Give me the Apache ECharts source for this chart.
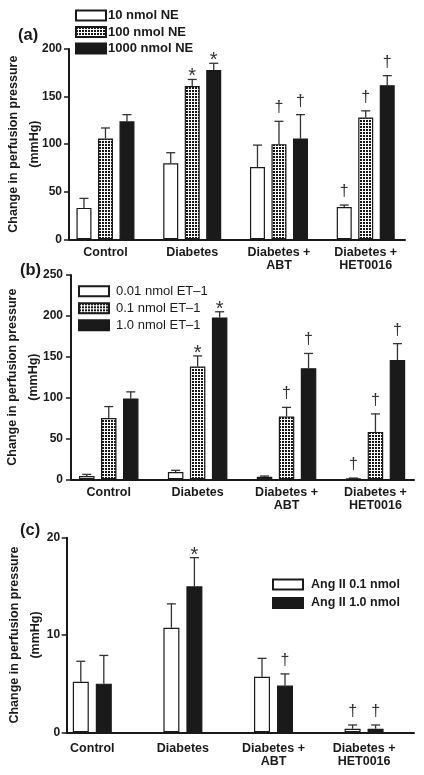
<!DOCTYPE html>
<html><head><meta charset="utf-8">
<script src="https://cdn.jsdelivr.net/npm/echarts@6/dist/echarts.min.js"></script>
<style>html,body{margin:0;padding:0;background:#fff}#c{width:424px;height:775px}</style>
</head><body><div id="c"></div>
<script>
// ---------- DATA ----------
const categories = ['Control', 'Diabetes', 'Diabetes +\nABT', 'Diabetes +\nHET0016'];

// Panel (a): norepinephrine
const aNames = ['10 nmol NE', '100 nmol NE', '1000 nmol NE'];
const aMean10 = [33, 80, 76, 34];
const aTop10 = [43, 91, 99, 36];
const aMean100 = [106, 161, 100, 128];
const aTop100 = [117, 168, 124, 135];
const aMean1000 = [124, 178, 106, 162];
const aTop1000 = [131, 185, 131, 172];
const aMark10 = ['', '', '', '†'];
const aMark100 = ['', '*', '†', '†'];
const aMark1000 = ['', '*', '†', '†'];
const aTicks = [0, 50, 100, 150, 200];

// Panel (b): endothelin-1
const bNames = ['0.01 nmol ET–1', '0.1 nmol ET–1', '1.0 nmol ET–1'];
const bMean001 = [4, 9, 3, 1];
const bTop001 = [6, 11, 4, 1.5];
const bMean01 = [75, 138, 77, 58];
const bTop01 = [89, 151, 88, 80];
const bMean1 = [99, 198, 136, 146];
const bTop1 = [107, 205, 154, 166];
const bMark001 = ['', '', '', '†'];
const bMark01 = ['', '*', '†', '†'];
const bMark1 = ['', '*', '†', '†'];
const bTicks = [0, 50, 100, 150, 200, 250];

// Panel (c): angiotensin II
const cNames = ['Ang II 0.1 nmol', 'Ang II 1.0 nmol'];
const cMean01 = [5.2, 10.75, 5.7, 0.37];
const cTop01 = [7.3, 13.2, 7.6, 0.75];
const cMean1 = [5.0, 15.0, 4.8, 0.37];
const cTop1 = [7.9, 17.95, 6.0, 0.75];
const cMark01 = ['', '', '', '†'];
const cMark1 = ['', '*', '†', '†'];
const cTicks = [0, 10, 20];

const yTitle = 'Change in perfusion pressure\n(mmHg)';

// ---------- STYLE ----------
const FONT = '"Liberation Sans", Arial, Helvetica, sans-serif';
const INK = '#1a1a1a';
function makeDots() {
  const c = document.createElement('canvas');
  c.width = 3; c.height = 3;
  const g = c.getContext('2d');
  g.fillStyle = '#ffffff'; g.fillRect(0, 0, 3, 3);
  g.fillStyle = '#151515'; g.fillRect(0, 0, 2, 2);
  return c;
}
const FILLS = { white: '#ffffff', dots: { image: makeDots(), repeat: 'repeat' }, black: INK };

const panels = [
  { names: aNames, means: [aMean10, aMean100, aMean1000], tops: [aTop10, aTop100, aTop1000],
    marks: [aMark10, aMark100, aMark1000], fills: ['white', 'dots', 'black'], ticks: aTicks,
    top: 49, height: 190.3, dataLeft: 62.1, dataWidth: 347, axisLeft: 69, axisRight: 405,
    barW: 15, gap: 6.5, legLeft: 75, legTop: 7.5, legBold: true, legSize: 13, legGap: 0.5, legPad: -3,
    label: '(a)', labLeft: 18, labTop: 27, xMargin: 6, nameGap: 23.5, yMargin: 7 },
  { names: bNames, means: [bMean001, bMean01, bMean1], tops: [bTop001, bTop01, bTop1],
    marks: [bMark001, bMark01, bMark1], fills: ['white', 'dots', 'black'], ticks: bTicks,
    top: 275, height: 204.3, dataLeft: 64.3, dataWidth: 355.6, axisLeft: 71, axisRight: 414,
    barW: 15.5, gap: 6.5, legLeft: 78, legTop: 283.3, legBold: false, legSize: 13, legGap: 1, legPad: 2,
    label: '(b)', labLeft: 20, labTop: 262, xMargin: 6, nameGap: 26.5, yMargin: 8 },
  { names: cNames, means: [cMean01, cMean1], tops: [cTop01, cTop1],
    marks: [cMark01, cMark1], fills: ['white', 'black'], ticks: cTicks,
    top: 537.7, height: 194.6, dataLeft: 47, dataWidth: 362.4, axisLeft: 66.7, axisRight: 414,
    barW: 16, gap: 7, legLeft: 272, legTop: 576.5, legBold: true, legSize: 12.5, legGap: 2.5, legPad: 3,
    label: '(c)', labLeft: 20, labTop: 522, xMargin: 9, nameGap: 20.7, yMargin: 6.5 }
];

const grid = [], xAxis = [], yAxis = [], series = [], legend = [], title = [];

panels.forEach((p, pi) => {
  const gData = pi * 2, gAxis = pi * 2 + 1;
  const yMin = p.ticks[0], yMax = p.ticks[p.ticks.length - 1], yInt = p.ticks[1] - p.ticks[0];
  grid.push({ left: p.dataLeft, width: p.dataWidth, top: p.top, height: p.height, outerBoundsMode: 'none' });
  grid.push({ left: p.axisLeft, width: p.axisRight - p.axisLeft, top: p.top, height: p.height, outerBoundsMode: 'none' });

  xAxis.push({ type: 'category', gridIndex: gData, data: categories,
    axisLine: { show: false }, axisTick: { show: false }, splitLine: { show: false },
    axisLabel: { interval: 0, margin: p.xMargin, color: INK, fontFamily: FONT, fontWeight: 'bold', fontSize: 12.5, lineHeight: 13.5 } });
  xAxis.push({ type: 'value', gridIndex: gAxis, min: 0, max: 1,
    axisLine: { show: true, onZero: false, lineStyle: { color: INK, width: 2 } },
    axisTick: { show: false }, axisLabel: { show: false }, splitLine: { show: false } });

  yAxis.push({ type: 'value', gridIndex: gData, min: yMin, max: yMax, interval: yInt, show: false });
  yAxis.push({ type: 'value', gridIndex: gAxis, min: yMin, max: yMax, interval: yInt,
    axisLine: { show: true, onZero: false, lineStyle: { color: INK, width: 2 } },
    axisTick: { show: true, length: 5, lineStyle: { color: INK, width: 1.5 } },
    splitLine: { show: false },
    axisLabel: { margin: p.yMargin, color: INK, fontFamily: FONT, fontWeight: 'bold', fontSize: 12 },
    name: yTitle, nameLocation: 'middle', nameGap: p.nameGap, nameRotate: 90, nameMoveOverlap: false,
    nameTextStyle: { color: INK, fontFamily: FONT, fontWeight: 'bold', fontSize: 12.5, lineHeight: 21 } });

  const n = p.names.length;
  p.names.forEach((nm, s) => {
    series.push({ type: 'bar', name: nm, xAxisIndex: gData, yAxisIndex: gData, data: p.means[s],
      barWidth: p.barW, barGap: (p.gap / p.barW * 100) + '%', z: 3,
      itemStyle: { color: FILLS[p.fills[s]], borderColor: INK, borderWidth: 1.2 } });
    const offset = (s - (n - 1) / 2) * (p.barW + p.gap);
    const marks = p.marks[s];
    series.push({ type: 'custom', name: nm + ' err', xAxisIndex: gData, yAxisIndex: gData, z: 2,
      data: p.means[s].map((m, i) => [i, m, p.tops[s][i]]), silent: true,
      renderItem: function (params, api) {
        const i = api.value(0);
        const b = api.coord([i, api.value(1)]);
        const t = api.coord([i, api.value(2)]);
        const x = b[0] + offset;
        const ch = [
          { type: 'line', shape: { x1: x, y1: b[1], x2: x, y2: t[1] }, style: { stroke: '#333', lineWidth: 1.3 } },
          { type: 'line', shape: { x1: x - 4.5, y1: t[1], x2: x + 4.5, y2: t[1] }, style: { stroke: '#333', lineWidth: 1.3 } }
        ];
        const mk = marks[params.dataIndex];
        if (mk) {
          const isStar = mk === '*';
          ch.push({ type: 'text', x: x, y: t[1] - (isStar ? 2.5 : 13.5),
            style: { text: mk, fill: '#333', align: 'center', verticalAlign: 'middle',
              font: (isStar ? 'normal 20px ' : 'normal 16px ') + FONT } });
        }
        return { type: 'group', children: ch };
      } });
  });

  legend.push({ orient: 'vertical', left: p.legLeft, top: p.legTop, padding: 0,
    itemWidth: 30, itemHeight: 10, itemGap: p.legGap, icon: 'rect', data: p.names,
    selectedMode: false,
    textStyle: { color: INK, fontFamily: FONT, fontWeight: p.legBold ? 'bold' : 'normal', fontSize: p.legSize,
      lineHeight: 16, padding: [0, 0, 0, p.legPad] } });

  title.push({ text: p.label, left: p.labLeft, top: p.labTop, padding: 0,
    textStyle: { color: INK, fontFamily: FONT, fontWeight: 'bold', fontSize: 16.5 } });
});

const chart = echarts.init(document.getElementById('c'), null, { renderer: 'canvas' });
chart.setOption({ animation: false, backgroundColor: '#ffffff', title, legend, grid, xAxis, yAxis, series });
</script>
</body></html>
